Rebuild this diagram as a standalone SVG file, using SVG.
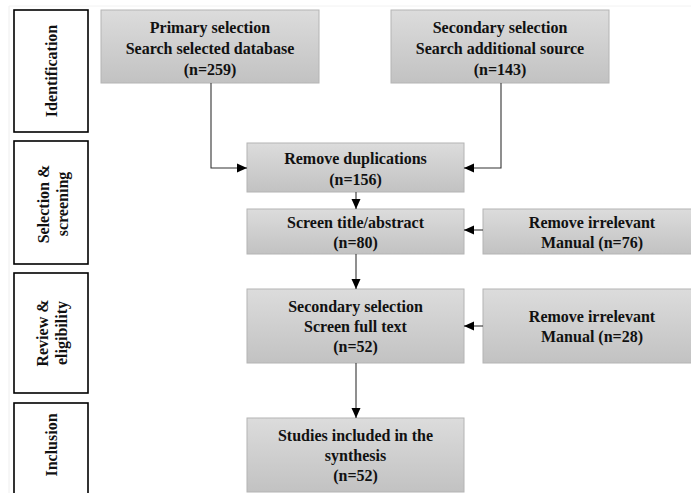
<svg xmlns="http://www.w3.org/2000/svg" width="691" height="493" viewBox="0 0 691 493">
<defs>
<linearGradient id="g" x1="0" y1="0" x2="0" y2="1">
<stop offset="0" stop-color="#dcdcdc"/>
<stop offset="1" stop-color="#c2c2c2"/>
</linearGradient>
<marker id="ah" viewBox="0 0 10 10" refX="10" refY="5" markerWidth="10" markerHeight="10" markerUnits="userSpaceOnUse" orient="auto">
<path d="M0,0.5 L10,5 L0,9.5 Z" fill="#000"/>
</marker>
<style>
.box{fill:url(#g);stroke:#b4b4b4;stroke-width:1}
.stage{fill:#fff;stroke:#000;stroke-width:1.6}
text{font-family:"Liberation Serif","Times New Roman",serif;font-weight:bold;font-size:16px;fill:#111}
.c{text-anchor:middle}
.conn{fill:none;stroke:#333;stroke-width:1.1;marker-end:url(#ah)}
</style>
</defs>
<rect width="691" height="493" fill="#fff"/>
<line x1="9" y1="6" x2="9" y2="493" stroke="#eee" stroke-width="1"/>
<line x1="9" y1="6" x2="691" y2="6" stroke="#f2f2f2" stroke-width="1"/>

<g id="stage-identification">
<rect class="stage" x="14" y="10" width="74" height="122"/>
<text class="c" transform="translate(57,71) rotate(-90)">Identification</text>
</g>
<g id="stage-selection">
<rect class="stage" x="14" y="141" width="74" height="123"/>
<text class="c" transform="translate(49,204) rotate(-90)">Selection &amp;</text>
<text class="c" transform="translate(68,204) rotate(-90)">screening</text>
</g>
<g id="stage-review">
<rect class="stage" x="14" y="273" width="74" height="120"/>
<text class="c" transform="translate(48,333) rotate(-90)">Review &amp;</text>
<text class="c" transform="translate(67,333) rotate(-90)">eligibility</text>
</g>
<g id="stage-inclusion">
<rect class="stage" x="14" y="403" width="74" height="100"/>
<text class="c" transform="translate(57,445) rotate(-90)">Inclusion</text>
</g>

<g id="primary">
<rect class="box" x="101" y="10" width="218" height="73"/>
<text class="c" x="210" y="33">Primary selection</text>
<text class="c" x="210" y="54">Search selected database</text>
<text class="c" x="210" y="75">(n=259)</text>
</g>
<g id="secondary">
<rect class="box" x="391" y="10" width="218" height="73"/>
<text class="c" x="500" y="33">Secondary selection</text>
<text class="c" x="500" y="54">Search additional source</text>
<text class="c" x="500" y="75">(n=143)</text>
</g>
<g id="remove-dup">
<rect class="box" x="247" y="143" width="217" height="49"/>
<text class="c" x="355.5" y="164">Remove duplications</text>
<text class="c" x="355.5" y="185">(n=156)</text>
</g>
<g id="screen-title">
<rect class="box" x="247" y="209" width="217" height="45"/>
<text class="c" x="355.5" y="228">Screen title/abstract</text>
<text class="c" x="355.5" y="248">(n=80)</text>
</g>
<g id="remove-76">
<rect class="box" x="483" y="209" width="218" height="45"/>
<text class="c" x="592" y="228">Remove irrelevant</text>
<text class="c" x="592" y="248">Manual (n=76)</text>
</g>
<g id="screen-full">
<rect class="box" x="247" y="289" width="217" height="74"/>
<text class="c" x="355.5" y="312">Secondary selection</text>
<text class="c" x="355.5" y="332">Screen full text</text>
<text class="c" x="355.5" y="352">(n=52)</text>
</g>
<g id="remove-28">
<rect class="box" x="483" y="289" width="218" height="74"/>
<text class="c" x="592" y="322">Remove irrelevant</text>
<text class="c" x="592" y="342">Manual (n=28)</text>
</g>
<g id="studies">
<rect class="box" x="247" y="418" width="217" height="74"/>
<text class="c" x="355.5" y="441">Studies included in the</text>
<text class="c" x="355.5" y="461">synthesis</text>
<text class="c" x="355.5" y="481">(n=52)</text>
</g>

<g id="connectors">
<path class="conn" d="M211,83 V168 H247"/>
<path class="conn" d="M501,83 V168 H464"/>
<path class="conn" d="M356,192 V209"/>
<path class="conn" d="M483,230 H464"/>
<path class="conn" d="M356,254 V289"/>
<path class="conn" d="M483,326 H464"/>
<path class="conn" d="M356,363 V418"/>
</g>
</svg>
